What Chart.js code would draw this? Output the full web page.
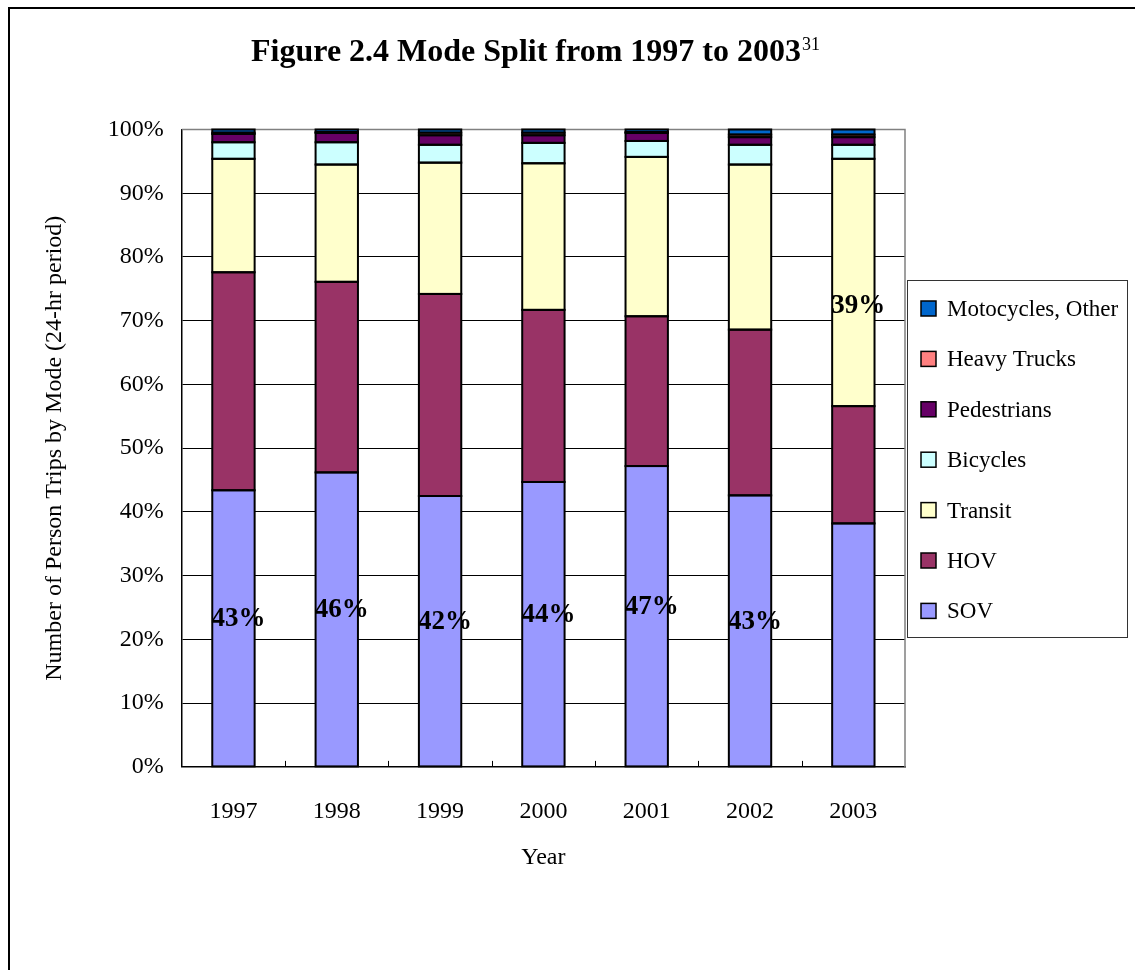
<!DOCTYPE html>
<html>
<head>
<meta charset="utf-8">
<script src="https://cdn.jsdelivr.net/npm/chart.js"></script>
<style>
  body { margin: 0; background: #fff; }
  canvas { display: block; }
</style>
</head>
<body>
<canvas id="chart" width="1135" height="970"></canvas>
<script>
var years = ['1997', '1998', '1999', '2000', '2001', '2002', '2003'];

// percent of person trips, bottom to top
var sov         = [43.4, 46.2, 42.5, 44.7, 47.2, 42.6, 38.2];
var hov         = [34.2, 29.9, 31.7, 27.0, 23.5, 26.0, 18.4];
var transit     = [17.8, 18.4, 20.6, 23.0, 25.0, 25.9, 38.8];
var bicycles    = [2.6, 3.5, 2.8, 3.2, 2.5, 3.1, 2.2];
var pedestrians = [1.3, 1.45, 1.5, 1.2, 1.25, 1.2, 1.2];
var trucks      = [0.2, 0.15, 0.4, 0.4, 0.15, 0.4, 0.4];
var motoOther   = [0.5, 0.4, 0.5, 0.5, 0.4, 0.8, 0.8];

var sovLabels     = ['43%', '46%', '42%', '44%', '47%', '43%', ''];
var transitLabels = ['', '', '', '', '', '', '39%'];

var yTicks = [0, 10, 20, 30, 40, 50, 60, 70, 80, 90, 100];

var serif = '"Liberation Serif", "Times New Roman", serif';

function makeSet(label, data, color) {
    return {
        label: label,
        data: data,
        backgroundColor: color,
        borderWidth: 0,
        categoryPercentage: 1.0,
        barPercentage: 0.41
    };
}

var extras = {
    id: 'extras',
    beforeDatasetsDraw: function (chart) {
        var ctx = chart.ctx, a = chart.chartArea;
        ctx.save();
        ctx.strokeStyle = '#808080';
        ctx.lineWidth = 1.5;
        ctx.beginPath();
        ctx.moveTo(a.left, a.top);
        ctx.lineTo(a.right, a.top);
        ctx.lineTo(a.right, a.bottom);
        ctx.stroke();
        ctx.restore();
    },
    afterDatasetsDraw: function (chart) {
        var ctx = chart.ctx, a = chart.chartArea;
        var xs = chart.scales.x;
        ctx.save();

        // outlines around every bar segment (stroke centred on the edges)
        ctx.strokeStyle = '#000';
        ctx.lineWidth = 2;
        chart.data.datasets.forEach(function (ds, d) {
            chart.getDatasetMeta(d).data.forEach(function (el) {
                var h = el.base - el.y;
                ctx.strokeRect(el.x - el.width / 2, el.y, el.width, h);
            });
        });

        // small inner ticks between categories
        ctx.lineWidth = 1;
        var n = years.length;
        for (var i = 1; i < n; i++) {
            var tx = Math.round(xs.left + i * xs.width / n) + 0.5;
            ctx.beginPath();
            ctx.moveTo(tx, a.bottom);
            ctx.lineTo(tx, a.bottom - 6);
            ctx.stroke();
        }

        // data labels
        ctx.font = 'bold 27px ' + serif;
        ctx.fillStyle = '#000';
        ctx.textAlign = 'center';
        ctx.textBaseline = 'middle';
        function labelSet(dsIndex, texts, dy) {
            var meta = chart.getDatasetMeta(dsIndex);
            meta.data.forEach(function (el, j) {
                if (!texts[j]) return;
                ctx.fillText(texts[j], el.x + 5, (el.y + el.base) / 2 + dy);
            });
        }
        labelSet(0, sovLabels, -9);
        labelSet(2, transitLabels, 24);

        // title with superscript
        var t = 'Figure 2.4 Mode Split from 1997 to 2003';
        ctx.font = 'bold 32px ' + serif;
        var tw = ctx.measureText(t).width;
        ctx.font = '18px ' + serif;
        var sw = ctx.measureText('31').width;
        var tx0 = 535 - (tw + sw) / 2;
        ctx.textAlign = 'left';
        ctx.textBaseline = 'alphabetic';
        ctx.font = 'bold 32px ' + serif;
        ctx.fillText(t, tx0, 61);
        ctx.font = '18px ' + serif;
        ctx.fillText('31', tx0 + tw + 1, 50);

        // legend box
        var lx = a.right + 2, ly = 280, lw = 220, lh = 357;
        ctx.fillStyle = '#fff';
        ctx.fillRect(lx, ly, lw, lh);
        ctx.strokeStyle = '#333';
        ctx.lineWidth = 1;
        ctx.strokeRect(lx + 0.5, ly + 0.5, lw, lh);
        var sets = chart.data.datasets.slice().reverse();
        ctx.font = '23px ' + serif;
        ctx.textBaseline = 'middle';
        sets.forEach(function (ds, k) {
            var cy = ly + 29 + k * 50.4;
            ctx.fillStyle = ds.backgroundColor;
            ctx.fillRect(lx + 14, cy - 8, 15, 15);
            ctx.strokeStyle = '#000';
            ctx.lineWidth = 1.5;
            ctx.strokeRect(lx + 14, cy - 8, 15, 15);
            ctx.fillStyle = '#000';
            ctx.fillText(ds.label, lx + 40, cy + 1);
        });

        // outer frame (top and left)
        ctx.strokeStyle = '#000';
        ctx.lineWidth = 2;
        ctx.beginPath();
        ctx.moveTo(chart.width, 8);
        ctx.lineTo(9, 8);
        ctx.lineTo(9, chart.height);
        ctx.stroke();

        ctx.restore();
    }
};

var ctx = document.getElementById('chart').getContext('2d');
var myChart = new Chart(ctx, {
    type: 'bar',
    data: {
        labels: years,
        datasets: [
            makeSet('SOV', sov, '#9999FF'),
            makeSet('HOV', hov, '#993366'),
            makeSet('Transit', transit, '#FFFFCC'),
            makeSet('Bicycles', bicycles, '#CCFFFF'),
            makeSet('Pedestrians', pedestrians, '#660066'),
            makeSet('Heavy Trucks', trucks, '#FF8080'),
            makeSet('Motocycles, Other', motoOther, '#0066CC')
        ]
    },
    options: {
        responsive: false,
        animation: false,
        layout: { padding: { left: 40, right: 230, top: 129.5, bottom: 97.5 } },
        plugins: {
            legend: { display: false },
            tooltip: { enabled: false }
        },
        scales: {
            x: {
                stacked: true,
                grid: { display: true, drawOnChartArea: false, drawTicks: false },
                border: { display: true, color: '#000', width: 1.5 },
                ticks: { color: '#000', font: { family: serif, size: 24 }, padding: 30 },
                title: {
                    display: true, text: 'Year', color: '#000',
                    font: { family: serif, size: 24 }, padding: { top: -12, bottom: 0 }
                }
            },
            y: {
                stacked: true,
                min: 0,
                max: 100,
                afterBuildTicks: function (scale) {
                    scale.ticks = yTicks.map(function (v) { return { value: v }; });
                },
                grid: {
                    color: function (c) { return c.tick && c.tick.value === 100 ? '#808080' : '#000'; },
                    lineWidth: 1,
                    drawTicks: false
                },
                border: { display: true, color: '#000', width: 1.5 },
                ticks: {
                    color: '#000', font: { family: serif, size: 24 }, padding: 18,
                    callback: function (v) { return v + '%'; }
                },
                title: {
                    display: true, text: 'Number of Person Trips by Mode (24-hr period)', color: '#000',
                    font: { family: serif, size: 24 }, padding: { top: 0, bottom: 21 }
                }
            }
        }
    },
    plugins: [extras]
});
</script>
</body>
</html>
